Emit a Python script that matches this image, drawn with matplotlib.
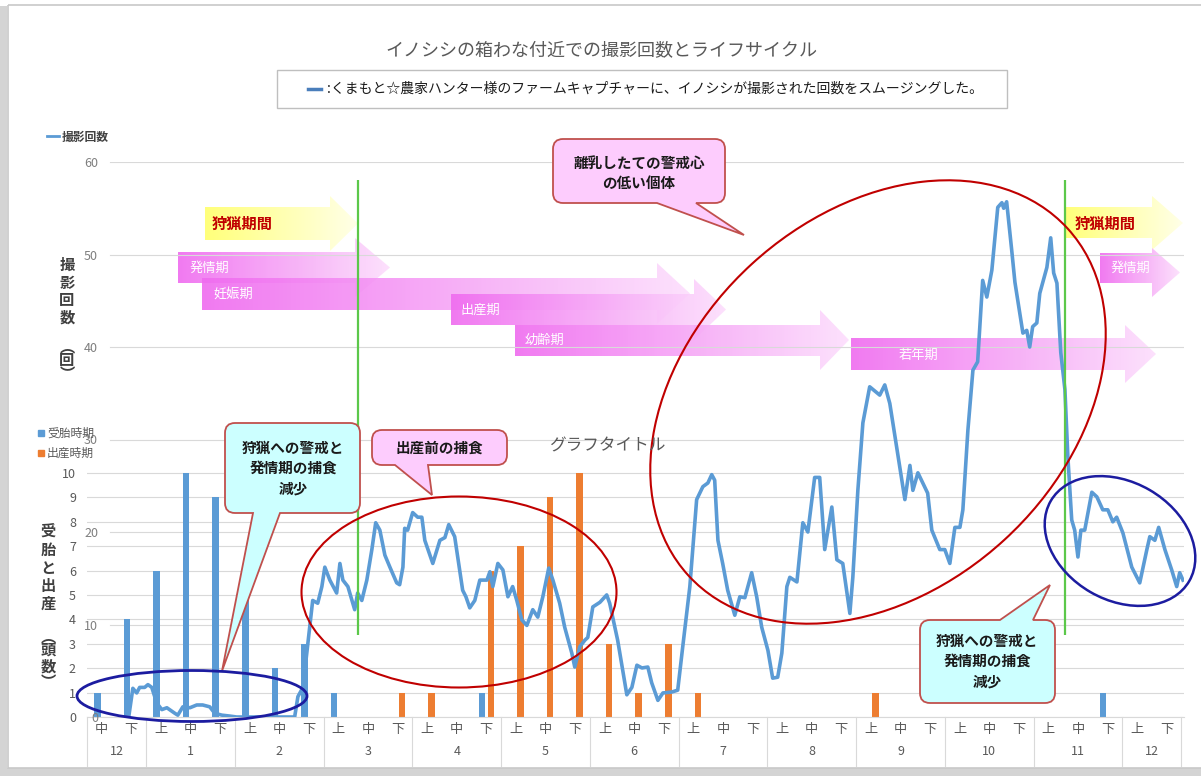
import numpy as np
import matplotlib
matplotlib.use("Agg")
import matplotlib.pyplot as plt
import matplotlib.transforms as mtransforms
from matplotlib.patches import Ellipse, Polygon, PathPatch, Rectangle
from matplotlib.path import Path

plt.rcParams['font.family'] = ['Noto Sans CJK JP', 'DejaVu Sans']

W, H = 1201, 776

# ---- data ----
sub_labels = ['中', '下'] + ['上', '中', '下'] * 11 + ['上', '下']
months = ['12', '1', '2', '3', '4', '5', '6', '7', '8', '9', '10', '11', '12']
month_sizes = [2] + [3] * 11 + [2]

# 受胎時期 / 出産時期 (頭数) per category
conception = [1, 4, 6, 10, 9, 5, 2, 3, 1, 0, 0, 0, 0, 1, 0, 0, 0, 0, 0,
              0, 0, 0, 0, 0, 0, 0, 0, 0, 0, 0, 0, 0, 0, 0, 1, 0, 0]
birth = [0, 0, 0, 0, 0, 0, 0, 0, 0, 0, 1, 1, 0, 6, 7, 9, 10, 3, 1,
         3, 1, 0, 0, 0, 0, 0, 1, 0, 0, 0, 0, 0, 0, 0, 0, 0, 0]

# 撮影回数 (smoothed), x in category units
line_x = [0.91, 1.05, 1.18, 1.28, 1.45, 1.56, 1.69, 1.86, 2.03, 2.20, 2.47, 2.57,
          2.74, 2.98, 3.21, 3.41, 3.65, 3.82, 4.06, 4.33, 4.56, 6.52, 6.63, 6.80,
          6.93, 7.03, 7.13, 7.30, 7.44, 7.54, 7.71, 7.94, 8.05, 8.15, 8.32, 8.55,
          8.65, 8.79, 8.96, 9.13, 9.26, 9.40, 9.57, 9.74, 9.97, 10.07, 10.18, 10.24,
          10.34, 10.51, 10.68, 10.82, 10.92, 11.19, 11.43, 11.60, 11.73, 11.93, 12.20,
          12.31, 12.44, 12.61, 12.78, 13.02, 13.12, 13.22, 13.39, 13.56, 13.73, 13.89,
          14.03, 14.20, 14.37, 14.57, 14.74, 14.91, 15.11, 15.25, 15.48, 15.65, 15.89,
          15.99, 16.16, 16.33, 16.43, 16.60, 16.84, 17.07, 17.17, 17.44, 17.75, 17.92,
          18.09, 18.26, 18.46, 18.59, 18.80, 18.97, 19.27, 19.47, 19.64, 19.88, 20.11,
          20.32, 20.49, 20.62, 20.72, 20.83, 20.99, 21.16, 21.40, 21.57, 21.74, 21.97,
          22.14, 22.31, 22.52, 22.68, 22.85, 22.99, 23.16, 23.26, 23.50, 23.70, 23.87,
          24.10, 24.27, 24.44, 24.68, 24.85, 25.05, 25.29, 25.39, 25.56, 25.73, 25.96,
          26.30, 26.47, 26.64, 26.98, 27.15, 27.32, 27.42, 27.59, 27.92, 28.06, 28.33,
          28.50, 28.67, 28.84, 29.01, 29.11, 29.28, 29.45, 29.61, 29.78, 29.92, 30.09,
          30.29, 30.43, 30.49, 30.59, 30.76, 30.87, 31.03, 31.14, 31.27, 31.37, 31.47,
          31.61, 31.71, 31.95, 32.08, 32.18, 32.29, 32.42, 32.56, 32.66, 32.79, 32.89,
          33.00, 33.10, 33.23, 33.47, 33.64, 33.84, 34.01, 34.18, 34.31, 34.52, 34.82,
          35.09, 35.33, 35.43, 35.60, 35.73, 35.94, 36.17, 36.34, 36.44, 36.55]
line_y = [0.0, 3.1, 2.6, 3.2, 3.2, 3.5, 3.2, 1.5, 0.8, 1.0, 0.4, 0.2,
          1.1, 1.0, 1.3, 1.3, 1.1, 0.4, 0.2, 0.1, 0.0, 0.0, 2.2, 3.2,
          6.9, 9.7, 12.6, 12.3, 14.1, 16.2, 14.8, 13.4, 16.6, 14.8, 14.1, 11.6,
          13.4, 12.6, 14.8, 18.1, 21.0, 20.2, 17.5, 16.2, 14.5, 14.3, 16.2, 20.4,
          20.2, 22.1, 21.6, 21.6, 19.1, 16.6, 19.1, 19.4, 20.8, 19.5, 13.7,
          13.0, 11.8, 12.6, 14.8, 14.8, 15.7, 14.1, 16.6, 15.9, 13.0, 14.1,
          12.6, 10.5, 9.9, 11.6, 10.8, 13.0, 16.1, 14.8, 12.3, 9.7, 6.9,
          5.4, 7.6, 8.3, 8.6, 11.9, 12.4, 13.2, 12.3, 8.3, 2.4, 3.2,
          5.6, 5.3, 5.4, 3.7, 1.8, 2.6, 2.7, 2.9, 7.6, 14.1, 23.5,
          24.9, 25.3, 26.2, 25.6, 19.1, 16.6, 13.7, 11.0, 13.0, 12.9, 15.6,
          13.0, 9.7, 7.2, 4.2, 4.3, 6.9, 14.1, 15.1, 14.6, 21.0, 20.0,
          25.9, 25.9, 18.1, 22.7, 17.0, 16.6, 11.2, 15.1, 24.5, 31.8, 35.7,
          34.8, 35.9, 33.9, 27.0, 23.5, 27.2, 24.5, 26.4, 24.2, 20.2, 18.1,
          18.1, 16.6, 20.5, 20.5, 22.4, 31.0, 37.5, 38.4, 47.2, 45.4, 48.3,
          55.1, 55.6, 55.0, 55.7, 50.5, 47.0, 43.7, 41.5, 41.8, 40.0, 42.2,
          42.6, 45.8, 48.6, 51.8, 48.0, 46.9, 39.4, 35.4, 28.1, 21.3, 20.2,
          17.3, 20.2, 20.2, 24.3, 23.8, 22.4, 22.4, 21.1, 21.6, 19.9, 16.2,
          14.5, 18.1, 19.5, 19.1, 20.5, 18.1, 15.9, 14.1, 15.6, 14.8]

hunting_marks = [8.65, 32.56]

BLUE = '#5b9bd5'
ORANGE = '#ed7d31'
GRID = '#d9d9d9'
EDGE = '#c0504d'

fig = plt.figure(figsize=(W / 100, H / 100), dpi=100)

# background overlay (frame + period arrows)
bg = fig.add_axes([0, 0, 1, 1], zorder=0)
bg.axis('off')

# chart axes
ax = fig.add_axes([87 / W, (H - 717) / H, (1184 - 87) / W, (717 - 162) / H], zorder=1)
ax.patch.set_visible(False)
ax.set_xlim(-0.5, -0.5 + (1184 - 87) / 29.58)
ax.set_ylim(0, (717 - 162) / 24.4)
ax2 = ax.twinx()
ax2.set_zorder(2)
ax2.set_ylim(0, 60)

x = np.arange(len(sub_labels))
ax.set_yticks(range(11))
ax.yaxis.grid(True, color=GRID, lw=0.8)
ax.set_axisbelow(True)
blend = mtransforms.blended_transform_factory(ax.transAxes, ax2.transData)
for v in range(10, 61, 10):
    ax.plot([0.021, 1], [v, v], transform=blend, color=GRID, lw=0.8, zorder=0.5)

ax.bar(x - 0.15, conception, width=0.22, color=BLUE, zorder=2)
ax.bar(x + 0.15, birth, width=0.22, color=ORANGE, zorder=2)

ax2.plot(line_x, line_y, color=BLUE, lw=2.6, solid_joinstyle='round', zorder=3)
ax2.vlines(hunting_marks, 8.9, 58.1, color='#5cc84a', lw=1.6, zorder=4)

ax.set_xticks(x)
ax.set_xticklabels(sub_labels)
ax.tick_params(axis='x', length=0, pad=4.5, labelsize=9.5, labelcolor='#595959')
ax.tick_params(axis='y', length=0, pad=8, labelsize=9, labelcolor='#595959')
ax2.set_yticks(range(0, 61, 10))
ax2.yaxis.set_ticks_position('left')
ax2.tick_params(axis='y', length=0, pad=-8, labelsize=9, labelcolor='#7f7f7f')
for s in ['top', 'left', 'right']:
    ax.spines[s].set_visible(False)
ax.spines['bottom'].set_color(GRID)
for s in ax2.spines.values():
    s.set_visible(False)

trans = mtransforms.blended_transform_factory(ax.transData, ax.transAxes)
bounds = np.cumsum([0] + month_sizes) - 0.5
for b in bounds:
    ax.plot([b, b], [0, -0.088], transform=trans, color=GRID, lw=0.8, clip_on=False)
for c, m in zip((bounds[:-1] + bounds[1:]) / 2, months):
    ax.text(c, -0.063, m, transform=trans, ha='center', va='center',
            fontsize=9, color='#595959')

# ---- background decorations ----
bg.add_patch(Rectangle((0, 6), 7, 770, fc='#d4d4d4', ec='none'))
bg.add_patch(Rectangle((0, 768), W, 8, fc='#d4d4d4', ec='none'))
bg.add_patch(Rectangle((8, 5), W, 763, fill=False, ec='#c8c8c8', lw=1.2))


def grad_arrow(a, x0, xh, x1, body, head, c0, c1, alpha=0.9):
    bt, bb = body
    ht, hb = head
    ym = (ht + hb) / 2
    verts = [(x0, bt), (xh, bt), (xh, ht), (x1, ym), (xh, hb), (xh, bb), (x0, bb)]
    poly = Polygon(verts, closed=True, fc='none', ec='none')
    a.add_patch(poly)
    g = np.linspace(0, 1, 256)[None, :, None]
    rgb = np.array(c0)[None, None, :] * (1 - g) + np.array(c1)[None, None, :] * g
    img = np.concatenate([rgb, np.full((1, 256, 1), alpha)], axis=2)
    im = a.imshow(img, extent=(x0, x1, hb, ht), aspect='auto', interpolation='bilinear')
    im.set_clip_path(poly)


YEL0, YEL1 = (1.0, 1.0, 0.42), (1.0, 1.0, 0.9)
PNK0, PNK1 = (0.94, 0.42, 0.94), (0.99, 0.87, 0.99)
grad_arrow(bg, 205, 330, 358, (207, 240), (196, 251), YEL0, YEL1)
grad_arrow(bg, 1066, 1152, 1183, (207, 238), (196, 250), YEL0, YEL1)
grad_arrow(bg, 178, 355, 390, (252, 283), (238, 297), PNK0, PNK1)
grad_arrow(bg, 202, 657, 690, (278, 310), (263, 324), PNK0, PNK1)
grad_arrow(bg, 451, 694, 726, (294, 325), (279, 340), PNK0, PNK1)
grad_arrow(bg, 515, 820, 849, (325, 356), (310, 370), PNK0, PNK1)
grad_arrow(bg, 851, 1125, 1156, (338, 370), (325, 383), PNK0, PNK1)
grad_arrow(bg, 1100, 1152, 1180, (253, 283), (248, 297), PNK0, PNK1)

bg.text(212, 224, '狩猟期間', color='#c00000', fontsize=11, weight='bold', va='center')
bg.text(1075, 224, '狩猟期間', color='#c00000', fontsize=11, weight='bold', va='center')
for tx, ty, t, ha in [(190, 268, '発情期', 'left'), (213, 295, '妊娠期', 'left'),
                      (461, 310, '出産期', 'left'), (525, 340, '幼齢期', 'left'),
                      (918, 355, '若年期', 'center'), (1130, 268, '発情期', 'center')]:
    bg.text(tx, ty, t, color='white', fontsize=9.5, ha=ha, va='center')

bg.set_xlim(0, W)
bg.set_ylim(H, 0)

# ---- foreground overlay (titles, callouts, ellipses) ----
fg = fig.add_axes([0, 0, 1, 1], zorder=3)
fg.axis('off')
fg.set_xlim(0, W)
fg.set_ylim(H, 0)

fg.text(601, 51, 'イノシシの箱わな付近での撮影回数とライフサイクル', ha='center', va='center',
        fontsize=13, color='#595959')
fg.add_patch(Rectangle((277, 70), 730, 38, fill=False, ec='#bfbfbf', lw=1))
fg.plot([308, 321], [89, 89], color='#4a7ebb', lw=2.5)
fg.text(327, 89, ':くまもと☆農家ハンター様のファームキャプチャーに、イノシシが撮影された回数をスムージングした。',
        va='center', fontsize=10, color='#1a1a1a')

fg.plot([47, 59], [136, 136], color=BLUE, lw=2)
fg.text(62, 137, '撮影回数', fontsize=8.5, weight='bold', color='#404040', va='center')

fg.add_patch(Rectangle((38, 430), 6, 6, color=BLUE))
fg.text(47, 433, '受胎時期', fontsize=8.5, color='#595959', va='center')
fg.add_patch(Rectangle((38, 450), 6, 6, color=ORANGE))
fg.text(47, 453, '出産時期', fontsize=8.5, color='#595959', va='center')

fg.text(607, 446, 'グラフタイトル', ha='center', va='center', fontsize=12, color='#595959')


def vlabel(a, xx, chars, ys):
    for ch, yy in zip(chars, ys):
        a.text(xx, yy, ch, ha='center', va='center', fontsize=11, weight='bold',
               color='#404040')


vlabel(fg, 67, '撮影回数︵回︶', [265, 283, 300, 318, 346, 360, 374])
vlabel(fg, 48, '受胎と出産︵頭数︶', [532, 550, 568, 586, 604, 636, 650, 667, 682])


def callout(a, box, base, tip, side, fc, r=10):
    x0, y0, x1, y1 = box
    ba, bb = base
    L, C3 = Path.LINETO, Path.CURVE3
    V = [(x0 + r, y0)]
    C = [Path.MOVETO]
    if side == 'top':
        V += [(ba, y0), tip, (bb, y0)]
        C += [L, L, L]
    V += [(x1 - r, y0), (x1, y0), (x1, y0 + r), (x1, y1 - r), (x1, y1), (x1 - r, y1)]
    C += [L, C3, C3, L, C3, C3]
    if side == 'bottom':
        V += [(bb, y1), tip, (ba, y1)]
        C += [L, L, L]
    V += [(x0 + r, y1), (x0, y1), (x0, y1 - r), (x0, y0 + r), (x0, y0), (x0 + r, y0), (x0 + r, y0)]
    C += [L, C3, C3, L, C3, C3, Path.CLOSEPOLY]
    a.add_patch(PathPatch(Path(V, C), fc=fc, ec=EDGE, lw=1.3))


PINK = '#fdccfd'
CYAN = '#ccffff'
callout(fg, (553, 139, 725, 203), (657, 696), (744, 235), 'bottom', PINK)
fg.text(639, 173, '離乳したての警戒心\nの低い個体', ha='center', va='center', fontsize=10.5,
        weight='bold', color='#1a1a1a', linespacing=1.3)

callout(fg, (225, 423, 360, 513), (253, 280), (222, 671), 'bottom', CYAN)
fg.text(293, 468, '狩猟への警戒と\n発情期の捕食\n減少', ha='center', va='center', fontsize=10.5,
        weight='bold', color='#1a1a1a', linespacing=1.35)

callout(fg, (372, 430, 507, 465), (395, 428), (432, 495), 'bottom', PINK)
fg.text(439, 448, '出産前の捕食', ha='center', va='center', fontsize=10.5,
        weight='bold', color='#1a1a1a')

callout(fg, (920, 620, 1055, 703), (1000, 1033), (1050, 585), 'top', CYAN)
fg.text(987, 661, '狩猟への警戒と\n発情期の捕食\n減少', ha='center', va='center', fontsize=10.5,
        weight='bold', color='#1a1a1a', linespacing=1.35)

fg.add_patch(Ellipse((192, 696), 230, 51, fill=False, ec='#1c1ca0', lw=2))
fg.add_patch(Ellipse((459, 592), 315, 191, fill=False, ec='#c00000', lw=1.5))
fg.add_patch(Ellipse((878, 402), 514, 374, angle=-42.5, fill=False, ec='#c00000', lw=1.5))
fg.add_patch(Ellipse((1120, 541), 160, 118, angle=30, fill=False, ec='#1c1ca0', lw=1.8))

fig.savefig('out.png', dpi=100, facecolor='white')
